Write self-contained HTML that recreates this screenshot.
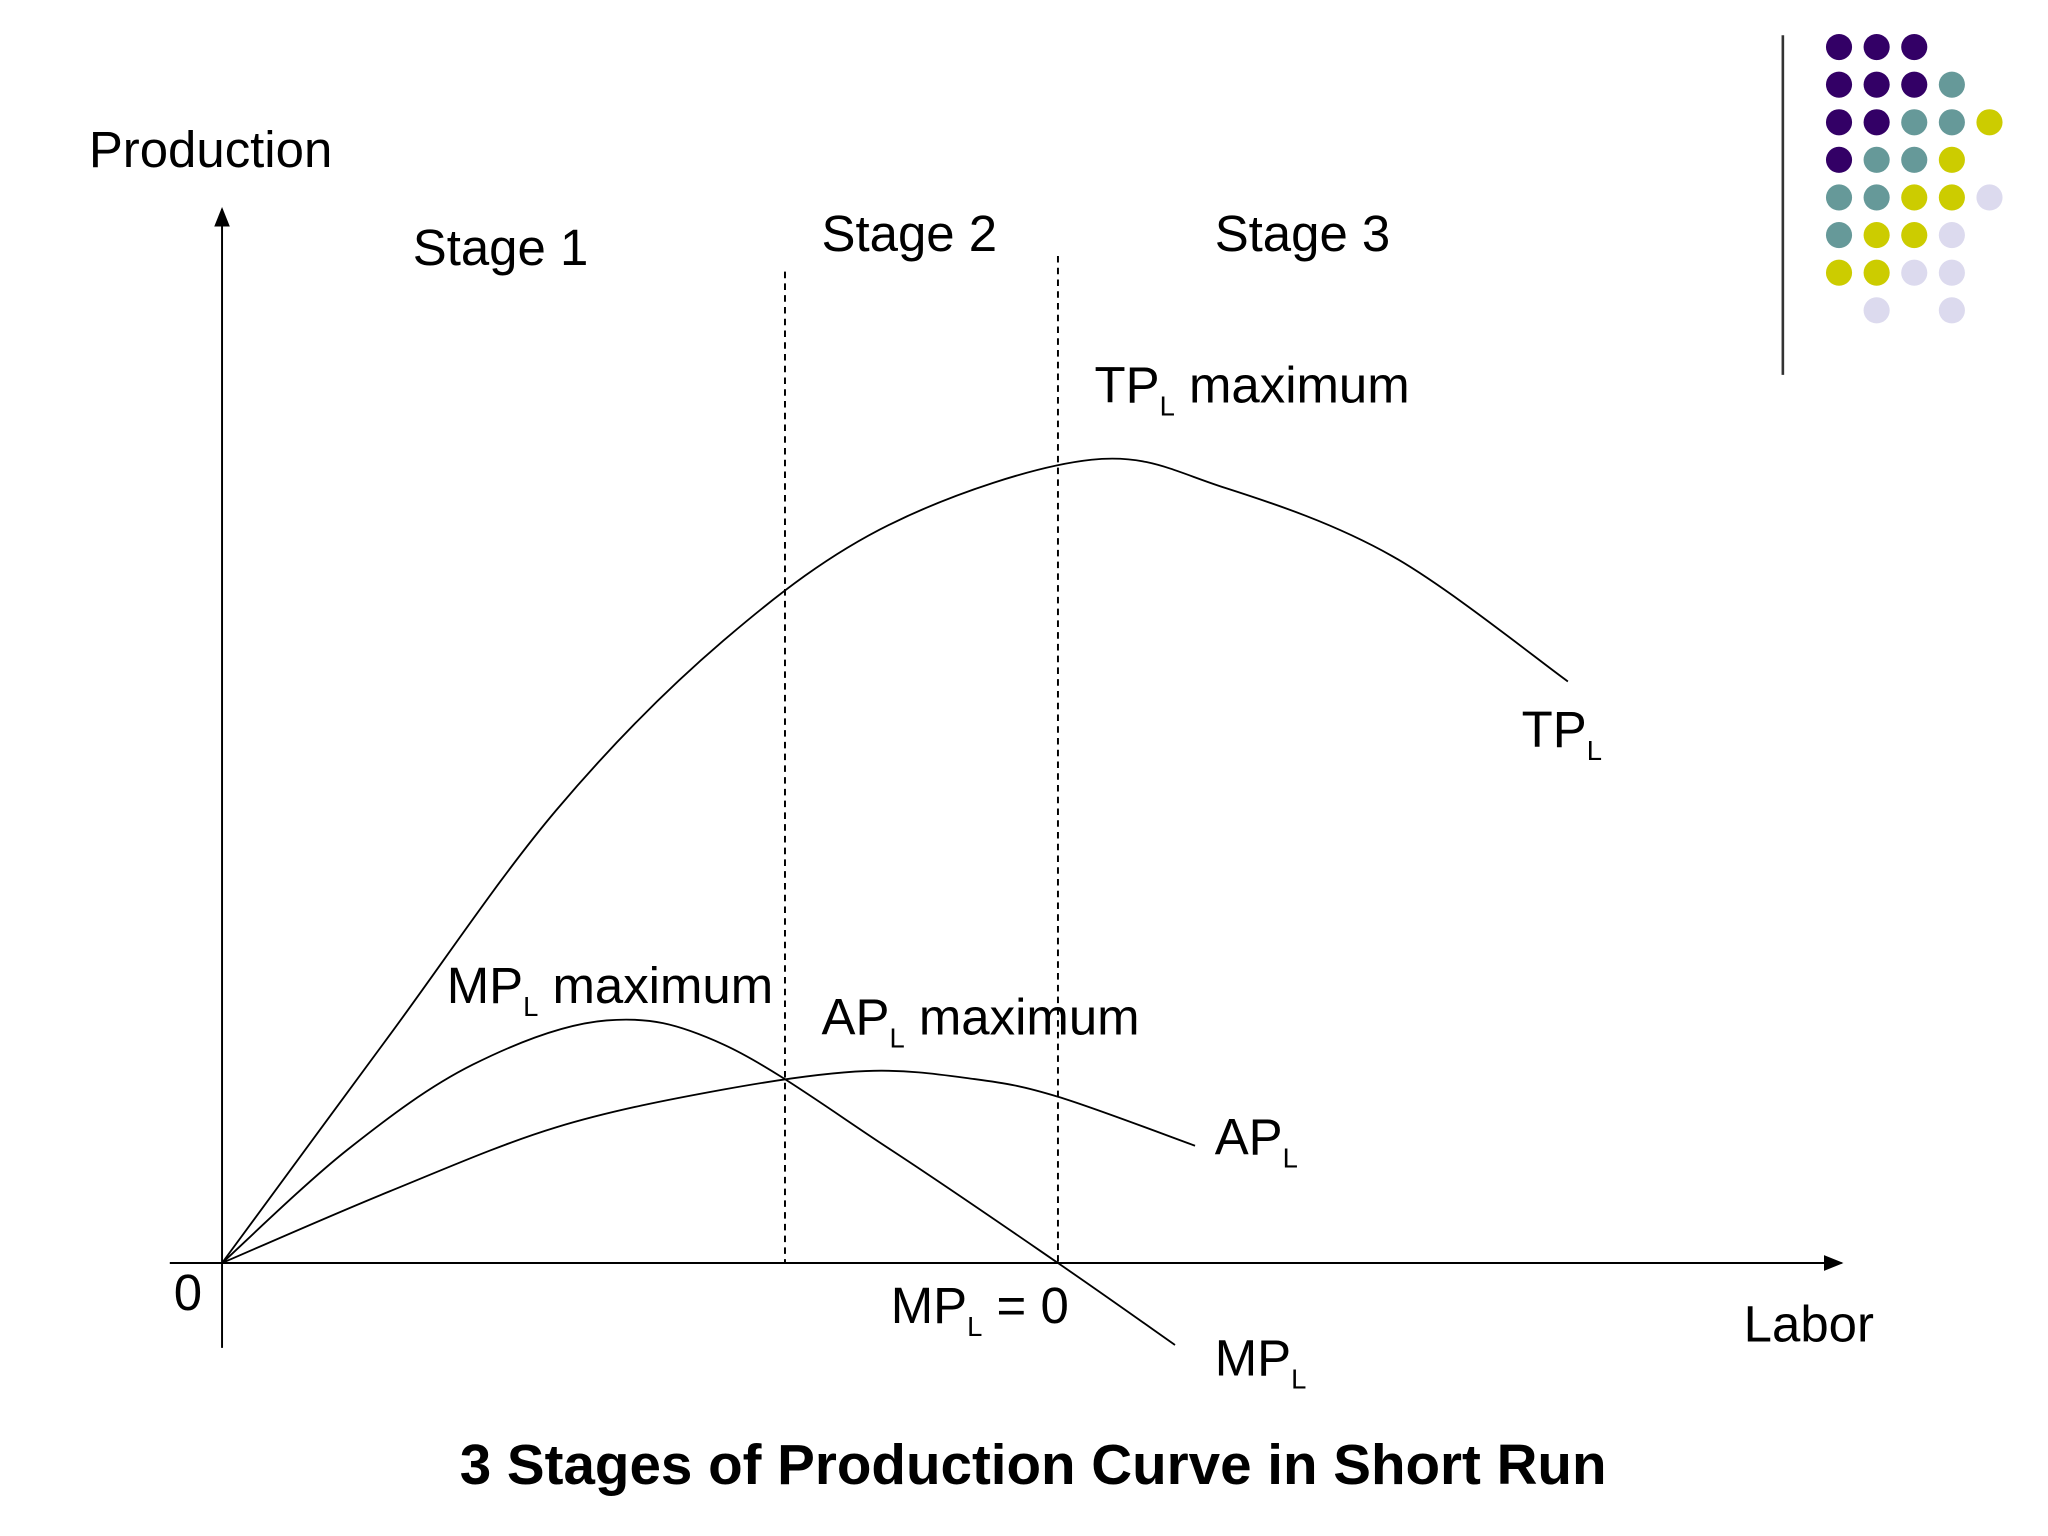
<!DOCTYPE html>
<html><head><meta charset="utf-8"><style>
html,body{margin:0;padding:0;background:#fff}
svg{display:block}
text{font-family:"Liberation Sans",Arial,sans-serif;fill:#000}
</style></head><body>
<svg width="2048" height="1536" viewBox="0 0 1568 1176">
<defs><marker id="ar" markerWidth="10" markerHeight="10" refX="9" refY="5" orient="auto"><path d="M0,1 L10,5 L0,9 z" fill="#000"/></marker></defs>
<g id="deco"></g>
<line x1="1365" y1="27" x2="1365" y2="287" stroke="#333" stroke-width="2"/>
<line x1="170" y1="1032" x2="170" y2="160" stroke="#000" stroke-width="1.5" marker-end="url(#ar)"/>
<line x1="130" y1="967" x2="1410" y2="967" stroke="#000" stroke-width="1.5" marker-end="url(#ar)"/>
<line x1="601" y1="208" x2="601" y2="967" stroke="#000" stroke-width="1.5" stroke-dasharray="5,4"/>
<line x1="810" y1="196" x2="810" y2="967" stroke="#000" stroke-width="1.5" stroke-dasharray="5,4"/>
<g id="curves"></g>
<text x="68" y="128" font-size="39">Production</text>
<text x="1335" y="1027" font-size="39">Labor</text>
<text x="133" y="1003" font-size="39">0</text>
<text x="316" y="203" font-size="39">Stage 1</text>
<text x="629" y="192" font-size="39">Stage 2</text>
<text x="930" y="192" font-size="39">Stage 3</text>
<text x="838" y="308" font-size="39">TP<tspan font-size="21" dy="10">L</tspan><tspan dy="-10"> maximum</tspan></text>
<text x="1165" y="572" font-size="39">TP<tspan font-size="21" dy="10">L</tspan></text>
<text x="342" y="768" font-size="39">MP<tspan font-size="21" dy="10">L</tspan><tspan dy="-10"> maximum</tspan></text>
<text x="629" y="792" font-size="39">AP<tspan font-size="21" dy="10">L</tspan><tspan dy="-10"> maximum</tspan></text>
<text x="930" y="884" font-size="39">AP<tspan font-size="21" dy="10">L</tspan></text>
<text x="682" y="1013" font-size="39">MP<tspan font-size="21" dy="10">L</tspan><tspan dy="-10"> = 0</tspan></text>
<text x="930" y="1053" font-size="39">MP<tspan font-size="21" dy="10">L</tspan></text>
<text x="791" y="1136" font-size="43.3" font-weight="bold" text-anchor="middle">3 Stages of Production Curve in Short Run</text>
</svg>
<script>
const tpL=[0,2,4,6,8,10.4,12,14,16.1];
const tpV=[0,28.3,56.4,77.5,92,100,96.5,88,72.4];
const mpL=[0,1.5,3,4.6,6,8,10,11.4];
const mpV=[0,14.1,24.7,30.2,27.2,14.1,0,-10.2];
const apL=[0,2,4,6,7.7,9,10,11.64];
const apV=[0,8.9,16.9,21.6,23.9,22.9,20.7,14.6];
const dotColors=[["#330066","#330066","#330066"],["#330066","#330066","#330066","#669999"],["#330066","#330066","#669999","#669999","#cccc00"],["#330066","#669999","#669999","#cccc00"],["#669999","#669999","#cccc00","#cccc00","#dcdaee"],["#669999","#cccc00","#cccc00","#dcdaee"],["#cccc00","#cccc00","#dcdaee","#dcdaee"],[null,"#dcdaee",null,"#dcdaee"]];
const xs=l=>170+l*64, ys=v=>967-v*6.15;
const NS="http://www.w3.org/2000/svg";
function path(L,V){
  const p=L.map((l,i)=>[xs(l),ys(V[i])]);
  let d="M"+p[0][0]+","+p[0][1];
  for(let i=0;i<p.length-1;i++){
    const p0=p[Math.max(0,i-1)],p1=p[i],p2=p[i+1],p3=p[Math.min(p.length-1,i+2)];
    d+=" C"+(p1[0]+(p2[0]-p0[0])/6)+","+(p1[1]+(p2[1]-p0[1])/6)+" "+(p2[0]-(p3[0]-p1[0])/6)+","+(p2[1]-(p3[1]-p1[1])/6)+" "+p2[0]+","+p2[1];
  }
  return d;
}
const g=document.getElementById("curves");
[[tpL,tpV,"tp-curve"],[mpL,mpV,"mp-curve"],[apL,apV,"ap-curve"]].forEach(([L,V,n])=>{
  const e=document.createElementNS(NS,"path");
  e.setAttribute("d",path(L,V));e.setAttribute("fill","none");e.setAttribute("stroke","#000");e.setAttribute("stroke-width","1.4");
  
  
  g.appendChild(e);
});
const dg=document.getElementById("deco");
dotColors.forEach((row,j)=>row.forEach((c,i)=>{
  if(!c)return;
  const e=document.createElementNS(NS,"circle");
  e.setAttribute("cx",1408+i*28.8);e.setAttribute("cy",36+j*28.8);e.setAttribute("r",10);e.setAttribute("fill",c);
  
  
  dg.appendChild(e);
}));
</script>
</body></html>
